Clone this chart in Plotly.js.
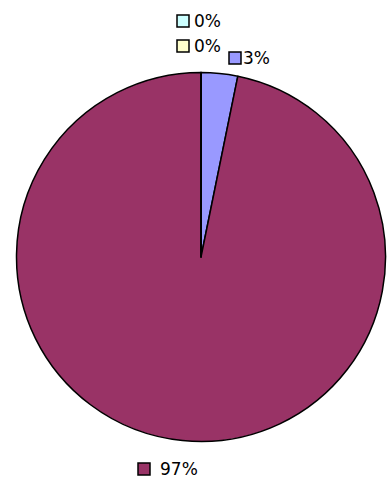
<!DOCTYPE html>
<html><head><meta charset="utf-8">
<script src="https://cdn.plot.ly/plotly-3.0.1.min.js"></script>
<style>html,body{margin:0;padding:0;background:#fff}</style>
</head><body>
<div id="chart" style="width:391px;height:491px"></div>
<script>
const categories = ["Series A", "Series B", "Series C", "Series D"];
const values = [3.2, 96.8, 0, 0];
const colors = ["#9999FF", "#993366", "#FFFFCC", "#CCFFFF"];
// label anchor positions in pixels (left of key box, vertical center) and gap to text
const labelPos = [[229, 58], [138, 469], [177, 46], [177, 21]];
const labelGap = [0, 8, 3, 3];

const W = 391, H = 491;
const total = values.reduce((a, b) => a + b, 0);
const px = x => x / W, py = y => 1 - y / H;

const shapes = [], annotations = [];
values.forEach((v, i) => {
  const [x, y] = labelPos[i];
  shapes.push({type: 'rect', xref: 'paper', yref: 'paper',
    x0: px(x), x1: px(x + 12), y0: py(y + 6), y1: py(y - 6),
    fillcolor: colors[i], line: {color: '#000', width: 1.5}});
  annotations.push({xref: 'paper', yref: 'paper', x: px(x + 12 + labelGap[i]), y: py(y),
    xanchor: 'left', yanchor: 'middle', showarrow: false,
    text: Math.round(v / total * 100) + '%',
    font: {family: 'DejaVu Sans', size: 17, color: '#000'}});
});

const trace = {
  type: 'pie', labels: categories, values: values, sort: false,
  direction: 'clockwise', rotation: 0,
  marker: {colors: colors, line: {color: '#000', width: 1.5}},
  textinfo: 'none', hoverinfo: 'none', showlegend: false,
  domain: {x: [16.5 / W, 385.5 / W], y: [(H - 257 - 184.5) / H, (H - 257 + 184.5) / H]}
};

Plotly.newPlot('chart', [trace], {
  width: W, height: H, margin: {l: 0, r: 0, t: 0, b: 0},
  paper_bgcolor: '#fff', showlegend: false,
  shapes: shapes, annotations: annotations
}, {staticPlot: true});
</script>
</body></html>
